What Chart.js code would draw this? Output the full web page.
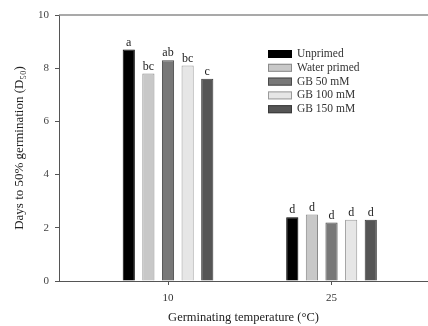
<!DOCTYPE html>
<html>
<head>
<meta charset="utf-8">
<script src="https://cdn.jsdelivr.net/npm/chart.js@4"></script>
<style>
  html, body { margin: 0; padding: 0; background: #fff; }
  #wrap { width: 428px; height: 326px; }
</style>
</head>
<body>
<div id="wrap"><canvas id="chart" width="428" height="326"></canvas></div>
<script>
// data
const temperatures = [10, 25];
const treatments = ['Unprimed', 'Water primed', 'GB 50 mM', 'GB 100 mM', 'GB 150 mM'];
const unprimed = [8.7, 2.4];
const waterPrimed = [7.8, 2.5];
const gb50 = [8.3, 2.2];
const gb100 = [8.1, 2.3];
const gb150 = [7.6, 2.3];
const letters = [['a', 'd'], ['bc', 'd'], ['ab', 'd'], ['bc', 'd'], ['c', 'd']];
const yTicks = [0, 2, 4, 6, 8, 10];

const fills = ['#000000', '#c8c8c8', '#787878', '#e6e6e6', '#555555'];
const edges = ['#000000', '#8a8a8a', '#4a4a4a', '#9a9a9a', '#3a3a3a'];
const serif = "'Liberation Serif', 'DejaVu Serif', serif";

const series = [unprimed, waterPrimed, gb50, gb100, gb150];
const datasets = series.map((vals, i) => ({
  label: treatments[i],
  data: vals.map((v, j) => ({ x: temperatures[j], y: v })),
  backgroundColor: fills[i],
  borderColor: edges[i],
  borderWidth: 1,
  categoryPercentage: 0.6,
  barPercentage: 0.62,
}));

// letters over bars + legend inside the plot + top frame line
const extras = {
  id: 'extras',
  afterDatasetsDraw(c) {
    const ctx = c.ctx;
    ctx.save();
    ctx.font = '12px ' + serif;
    ctx.fillStyle = '#222';
    ctx.textAlign = 'center';
    ctx.textBaseline = 'bottom';
    c.data.datasets.forEach((ds, i) => {
      c.getDatasetMeta(i).data.forEach((bar, j) => {
        ctx.fillText(letters[i][j], bar.x, bar.y - 1);
      });
    });

    // top frame line
    const a = c.chartArea;
    ctx.strokeStyle = '#8c8c8c';
    ctx.lineWidth = 1.5;
    ctx.beginPath();
    ctx.moveTo(a.left, a.top);
    ctx.lineTo(a.right, a.top);
    ctx.stroke();

    // legend
    ctx.textAlign = 'left';
    ctx.textBaseline = 'middle';
    ctx.font = '11.5px ' + serif;
    c.data.datasets.forEach((ds, i) => {
      const y = 54 + i * 13.8;
      ctx.fillStyle = ds.backgroundColor;
      ctx.strokeStyle = ds.borderColor;
      ctx.lineWidth = 1;
      ctx.fillRect(268, y - 4, 24, 8);
      ctx.strokeRect(268.5, y - 3.5, 23, 7);
      ctx.fillStyle = '#333';
      ctx.fillText(ds.label, 297, y);
    });
    ctx.restore();
  }
};

new Chart(document.getElementById('chart'), {
  type: 'bar',
  data: { datasets: datasets },
  options: {
    responsive: false,
    animation: false,
    layout: { padding: { top: 15, right: 0, left: 0, bottom: 0 } },
    plugins: {
      legend: { display: false },
      tooltip: { enabled: false },
    },
    scales: {
      x: {
        type: 'linear',
        min: 0,
        max: 33.85,
        offset: false,
        afterBuildTicks: (axis) => { axis.ticks = temperatures.map(v => ({ value: v })); },
        afterFit: (axis) => { axis.height = 45; },
        grid: { offset: false, drawOnChartArea: false, drawTicks: true, tickLength: 4, color: '#555' },
        border: { color: '#555', width: 1 },
        ticks: { color: '#333', font: { family: serif, size: 11 }, padding: 7 },
        title: {
          display: true,
          text: 'Germinating temperature (°C)',
          color: '#222',
          font: { family: serif, size: 12.5 },
          padding: { top: 9, bottom: 1 },
        },
      },
      y: {
        min: 0,
        max: 10,
        afterBuildTicks: (axis) => { axis.ticks = yTicks.map(v => ({ value: v })); },
        afterFit: (axis) => { axis.width = 59; },
        grid: { drawOnChartArea: false, drawTicks: true, tickLength: 4, color: '#555' },
        border: { color: '#555', width: 1 },
        ticks: { color: '#444', font: { family: serif, size: 11 }, padding: 6 },
        title: {
          display: true,
          text: 'Days to 50% germination (D₅₀)',
          color: '#222',
          font: { family: serif, size: 13 },
          padding: { top: 12, bottom: 2 },
        },
      },
    },
  },
  plugins: [extras],
});
</script>
</body>
</html>
